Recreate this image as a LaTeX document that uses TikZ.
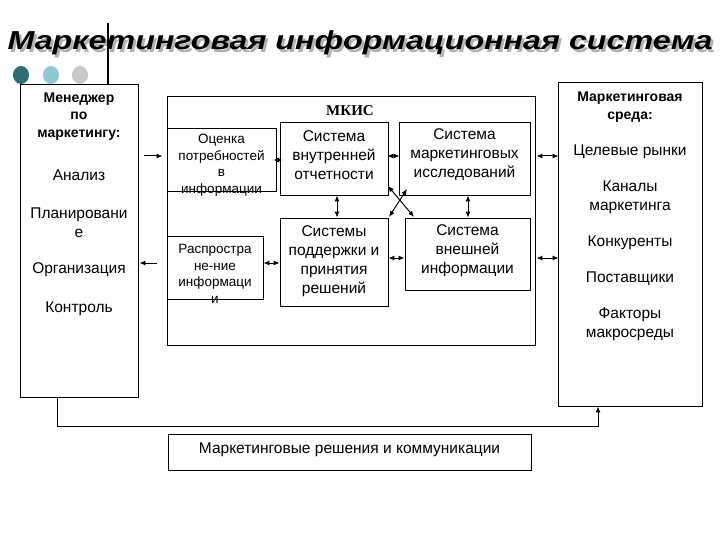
\documentclass[tikz,border=0pt]{standalone}
\usepackage{fontspec}
\setmainfont{Liberation Sans}
\newfontfamily\serifbold{Liberation Serif}
\usetikzlibrary{arrows.meta,calc}
\definecolor{dotA}{HTML}{2F6E70}
\definecolor{dotB}{HTML}{8FC9CF}
\definecolor{dotC}{HTML}{C9C9C9}
\begin{document}
\begin{tikzpicture}[x=1pt,y=-1pt,
  box/.style={draw=black,line width=0.9pt,inner sep=0pt,fill=none},
  txt/.style={font=\fontsize{15.5}{19}\selectfont,align=center,inner sep=0pt},
  stxt/.style={font=\fontsize{13.5}{16.5}\selectfont,align=center,inner sep=0pt},
  btxt/.style={font=\fontsize{14}{17.5}\selectfont\bfseries,align=center,inner sep=0pt},
  conn/.style={line width=1pt},
  arr/.style={conn,-{Latex[length=6pt,width=5pt]}},
  darr/.style={conn,{Latex[length=6pt,width=5pt]}-{Latex[length=6pt,width=5pt]}}]
\path[use as bounding box] (0,0) rectangle (720,540);
% title with shadow
\node[font=\fontsize{26}{30}\selectfont\bfseries\itshape,text=black!30,inner sep=0pt] (tshadow) at (362.5,45.5) {\scalebox{1.24}[1]{Маркетинговая информационная система}};
\node[font=\fontsize{26}{30}\selectfont\bfseries\itshape,inner sep=0pt] (title) at (360,43) {\scalebox{1.24}[1]{Маркетинговая информационная система}};
% dots
\fill[dotA] (21,75) ellipse [x radius=8, y radius=9];
\fill[dotB] (51,75) ellipse [x radius=8, y radius=9];
\fill[dotC] (80,75) ellipse [x radius=8, y radius=9];
% boxes
\node[box,minimum width=118pt,minimum height=313pt] (lb) at (79,240.5) {};
\node[box,minimum width=144pt,minimum height=324pt] (rb) at (630,244) {};
\node[box,minimum width=368pt,minimum height=249pt] (mk) at (351,220.5) {};
\node[box,minimum width=109pt,minimum height=63pt] (oc) at (221.5,159.5) {};
\node[box,minimum width=108pt,minimum height=73pt] (vo) at (334,158.5) {};
\node[box,minimum width=131pt,minimum height=73pt] (mi) at (464.5,158.5) {};
\node[box,minimum width=108pt,minimum height=88pt] (sp) at (334,262) {};
\node[box,minimum width=125pt,minimum height=72pt] (vi) at (467.5,254) {};
\node[box,minimum width=96pt,minimum height=63pt] (ra) at (215,267.5) {};
\node[box,minimum width=363pt,minimum height=36pt] (bb) at (349.5,452) {};
% vertical bar
\draw[line width=1.8pt] (108,23) -- (lb.north -| 108,0);
% texts
\node[btxt] (t1) at (79,116.5) {Менеджер\\по\\маркетингу:};
\node[txt] (t2) at (79,175) {Анализ};
\node[txt] (t3) at (79,223) {Планировани\\е};
\node[txt] (t4) at (79,270) {Организация};
\node[txt] (t5) at (79,309) {Контроль};
\node[font=\fontsize{15}{18}\serifbold\bfseries,inner sep=0pt] (t6) at (350,111) {МКИС};
\node[stxt] (t7) at (221.5,165) {Оценка\\потребностей\\в\\информации};
\node[txt] (t8) at (334,155) {Система\\внутренней\\отчетности};
\node[txt] (t9) at (464.5,155) {Система\\маркетинговых\\исследований};
\node[txt] (t10) at (334,261) {Системы\\поддержки и\\принятия\\решений};
\node[txt] (t11) at (467.5,251) {Система\\внешней\\информации};
\node[stxt] (t12) at (215,274) {Распростра\\не-ние\\информаци\\и};
\node[btxt] (t13) at (630,107) {Маркетинговая\\среда:};
\node[txt] (t14) at (630,152) {Целевые рынки};
\node[txt] (t15) at (630,197.5) {Каналы\\маркетинга};
\node[txt] (t16) at (630,243) {Конкуренты};
\node[txt] (t17) at (630,279) {Поставщики};
\node[txt] (t18) at (630,324.5) {Факторы\\макросреды};
\node[txt] (t19) at (349.5,450) {Маркетинговые решения и коммуникации};
% helper coordinates
\coordinate (y156) at (0,156);
\coordinate (y160) at (0,160);
\coordinate (y258) at (0,258);
\coordinate (y263) at (0,263);
\coordinate (x337) at (337,0);
\coordinate (x468) at (468,0);
\coordinate (xa1) at (388,186);
\coordinate (xa2) at (414,217);
\coordinate (xb1) at (407,189);
\coordinate (xb2) at (389,217);
\coordinate (c1) at (57,426);
\coordinate (c2) at (598,426);
% connectors
\draw[arr,shorten <=6pt,shorten >=4pt] (lb.east |- y156) -- (oc.west |- y156);
\draw[arr,shorten <=10pt,shorten >=1pt] (mk.west |- y263) -- (lb.east |- y263);
\draw[darr,shorten <=-3pt,shorten >=-3pt] (oc.east |- y160) -- (vo.west |- y160);
\draw[darr,shorten <=-1pt,shorten >=-1pt] (vo.east |- y156) -- (mi.west |- y156);
\draw[darr] (vo.south -| x337) -- (sp.north -| x337);
\draw[darr] (mi.south -| x468) -- (vi.north -| x468);
\draw[darr] (xa1) -- (xa2);
\draw[darr] (xb1) -- (xb2);
\draw[darr] (ra.east |- y263) -- (sp.west |- y263);
\draw[darr] (sp.east |- y258) -- (vi.west |- y258);
\draw[darr,shorten <=1pt,shorten >=-1pt] (mk.east |- y156) -- (rb.west |- y156);
\draw[darr,shorten <=1pt,shorten >=-1pt] (mk.east |- y258) -- (rb.west |- y258);
\draw[arr] (lb.south -| c1) -- (c1) -- (c2) -- (rb.south -| c2);
\end{tikzpicture}
\end{document}
